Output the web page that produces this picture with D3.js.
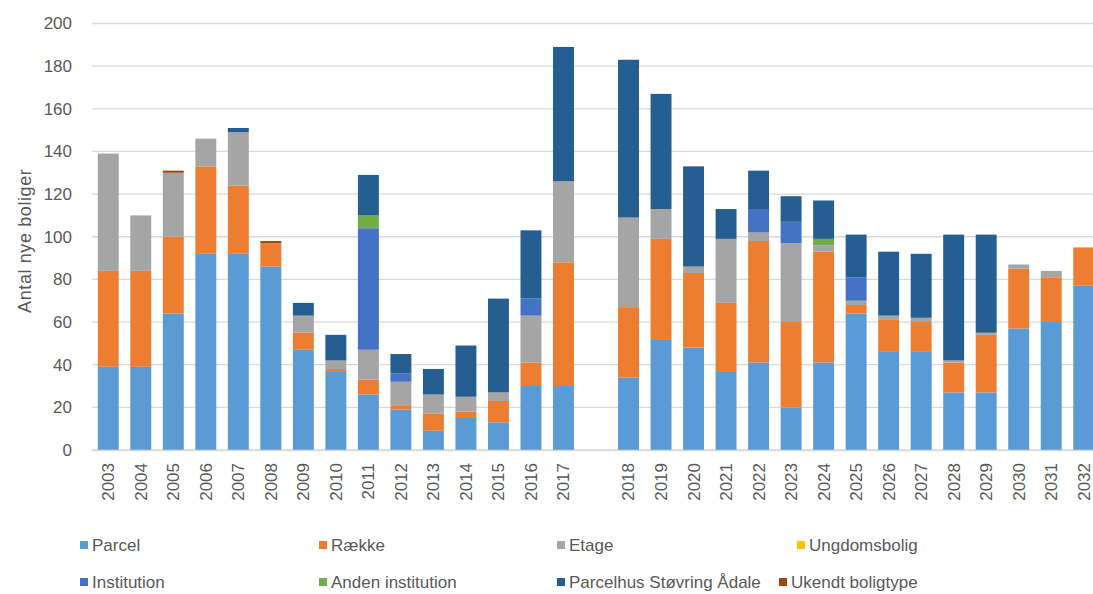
<!DOCTYPE html>
<html>
<head>
<meta charset="utf-8">
<script src="https://cdn.jsdelivr.net/npm/d3@7"></script>
<style>
  body { margin: 0; background: #fff; overflow: hidden; }
  text { font-family: "Liberation Sans", Arial, sans-serif; fill: #595959; }
</style>
</head>
<body>
<div id="chart"></div>
<script>
// categories ("" is the empty slot between 2017 and 2018)
var years = ["2003","2004","2005","2006","2007","2008","2009","2010","2011","2012",
  "2013","2014","2015","2016","2017","","2018","2019","2020","2021","2022","2023",
  "2024","2025","2026","2027","2028","2029","2030","2031","2032"];

var parcel       = [39,39,64,92,92,86,47,37,26,19, 9,15,13,30,30,null,34,52,48,37,41,20,41,64,46,46,27,27,57,60,77];
var raekke       = [45,45,36,41,32,11, 8, 1, 7, 2, 8, 3,10,11,58,null,33,47,35,32,57,40,52, 4,15,14,14,27,28,21,18];
var etage        = [55,26,30,13,25, 0, 8, 4,14,11, 9, 7, 4,22,38,null,42,14, 3,30, 4,37, 3, 2, 2, 2, 1, 1, 2, 3, 0];
var ungdom       = [ 0, 0, 0, 0, 0, 0, 0, 0, 0, 0, 0, 0, 0, 0, 0,null, 0, 0, 0, 0, 0, 0, 0, 0, 0, 0, 0, 0, 0, 0, 0];
var institution  = [ 0, 0, 0, 0, 0, 0, 0, 0,57, 4, 0, 0, 0, 8, 0,null, 0, 0, 0, 0,11,10, 0,11, 0, 0, 0, 0, 0, 0, 0];
var andenInst    = [ 0, 0, 0, 0, 0, 0, 0, 0, 6, 0, 0, 0, 0, 0, 0,null, 0, 0, 0, 0, 0, 0, 3, 0, 0, 0, 0, 0, 0, 0, 0];
var parcelhusSA  = [ 0, 0, 0, 0, 2, 0, 6,12,19, 9,12,24,44,32,63,null,74,54,47,14,18,12,18,20,30,30,59,46, 0, 0, 0];
var ukendt       = [ 0, 0, 1, 0, 0, 1, 0, 0, 0, 0, 0, 0, 0, 0, 0,null, 0, 0, 0, 0, 0, 0, 0, 0, 0, 0, 0, 0, 0, 0, 0];

var seriesNames  = ["Parcel","Række","Etage","Ungdomsbolig","Institution","Anden institution","Parcelhus Støvring Ådale","Ukendt boligtype"];
var seriesValues = [parcel, raekke, etage, ungdom, institution, andenInst, parcelhusSA, ukendt];
var colors       = ["#5B9BD5","#ED7D31","#A5A5A5","#FFC000","#4472C4","#70AD47","#255E91","#9E480E"];
var yTicks       = [0,20,40,60,80,100,120,140,160,180,200];

var W = 1093, H = 594;
var plotLeft = 92, plotRight = 1100, plotTop = 23.5, plotBottom = 450;

var svg = d3.select("#chart").append("svg").attr("width", W).attr("height", H);

// table for stack
var table = years.map(function (yr, i) {
  var row = { year: yr };
  seriesNames.forEach(function (n, k) { row[n] = seriesValues[k][i] || 0; });
  return row;
});

var x = d3.scaleBand().domain(d3.range(years.length)).range([plotLeft, plotRight])
  .paddingInner(0.356).paddingOuter(0.178);
var y = d3.scaleLinear().domain([0, 200]).range([plotBottom, plotTop]);

// gridlines
svg.append("g").selectAll("line").data(yTicks).enter().append("line")
  .attr("x1", plotLeft).attr("x2", plotRight)
  .attr("y1", function (d) { return y(d); }).attr("y2", function (d) { return y(d); })
  .attr("stroke", "#D9D9D9").attr("stroke-width", 1.3);

// y axis labels
var yAxis = svg.append("g").attr("transform", "translate(76,0)")
  .call(d3.axisLeft(y).tickValues(yTicks).tickSize(0).tickPadding(4));
yAxis.select(".domain").remove();
yAxis.selectAll("text").style("font-size", "17px").style("fill", "#595959")
  .style("font-family", "Liberation Sans, Arial, sans-serif");

// y title
svg.append("text")
  .attr("transform", "translate(25," + ((plotTop + plotBottom) / 2 + 4) + ") rotate(-90)")
  .attr("text-anchor", "middle").attr("dy", "0.35em")
  .style("font-size", "18px").style("letter-spacing", "0.6px")
  .text("Antal nye boliger");

// bars
var stack = d3.stack().keys(seriesNames);
var layers = stack(table);
svg.append("g").selectAll("g").data(layers).enter().append("g")
  .attr("fill", function (d, k) { return colors[k]; })
  .selectAll("rect").data(function (d) { return d; }).enter().append("rect")
  .attr("x", function (d, i) { return x(i); })
  .attr("width", x.bandwidth())
  .attr("y", function (d) { return y(d[1]); })
  .attr("height", function (d) { return y(d[0]) - y(d[1]); });

// x axis
var xAxis = svg.append("g").attr("transform", "translate(0," + plotBottom + ")")
  .call(d3.axisBottom(x).tickSize(0).tickFormat(function (i) { return years[i]; }));
xAxis.select(".domain").attr("stroke", "#D9D9D9").attr("stroke-width", 1.3);
xAxis.selectAll("text")
  .style("font-size", "17px").style("fill", "#595959")
  .style("font-family", "Liberation Sans, Arial, sans-serif")
  .attr("text-anchor", "end")
  .attr("transform", "rotate(-90)")
  .attr("x", -13).attr("y", 0).attr("dy", "0.35em");

// legend
var legX = [80, 319, 557, 797, 80, 319, 557, 779];
var legY = [545, 545, 545, 545, 582, 582, 582, 582];
var leg = svg.append("g").selectAll("g").data(seriesNames).enter().append("g")
  .attr("transform", function (d, k) { return "translate(" + legX[k] + "," + legY[k] + ")"; });
leg.append("rect").attr("x", 0).attr("y", -4).attr("width", 8).attr("height", 8)
  .attr("fill", function (d, k) { return colors[k]; });
leg.append("text").attr("x", 12).attr("dy", "0.35em")
  .style("font-size", "17px").text(function (d) { return d; });
</script>
</body>
</html>
